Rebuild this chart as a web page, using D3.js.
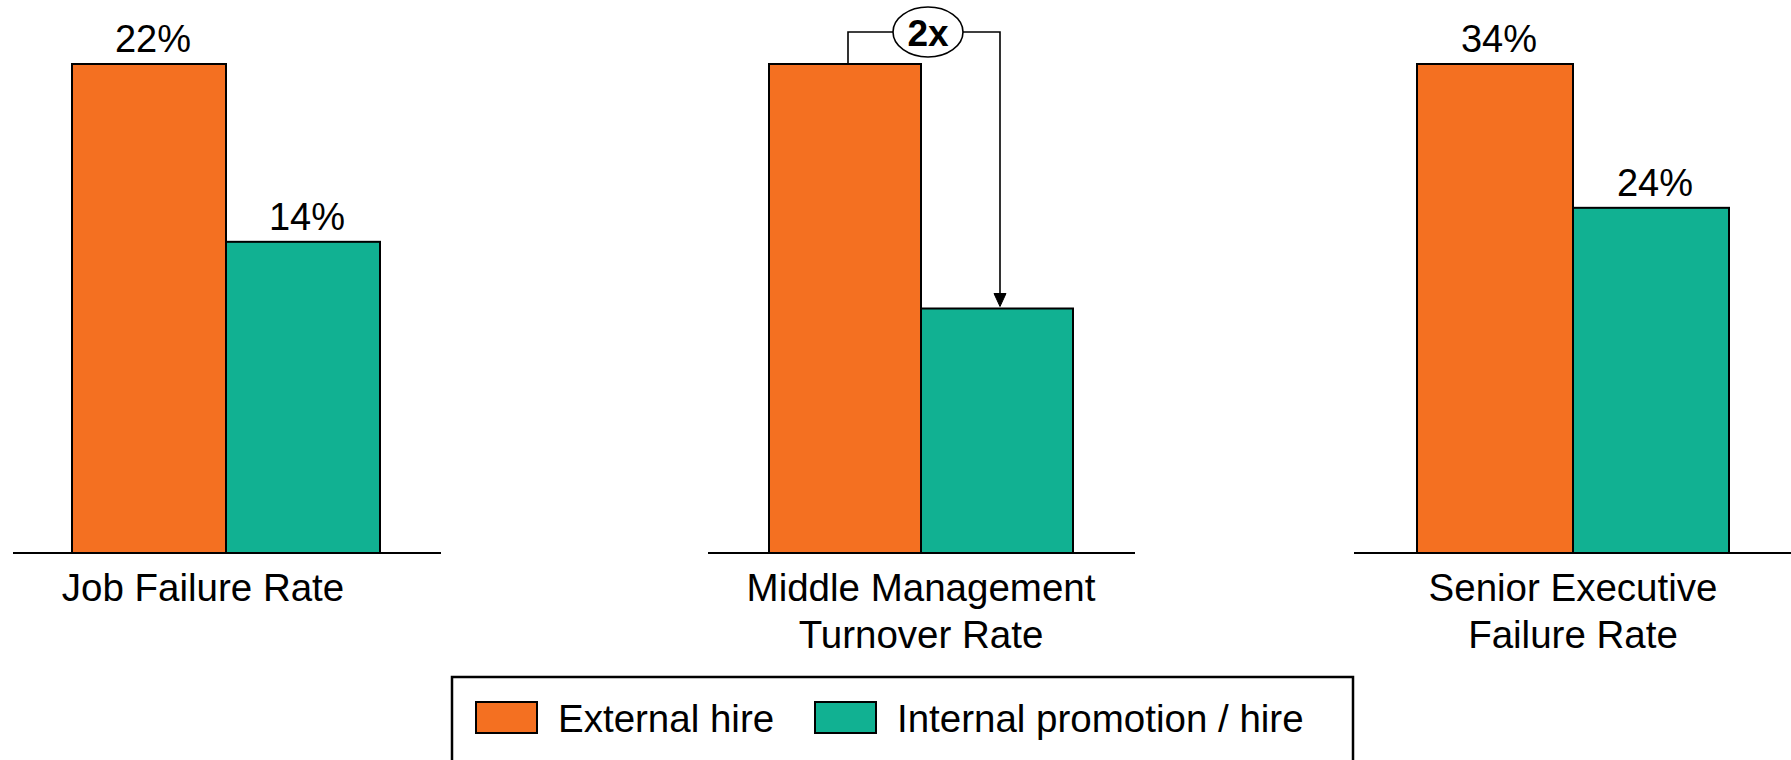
<!DOCTYPE html>
<html>
<head>
<meta charset="utf-8">
<script src="https://cdn.jsdelivr.net/npm/d3@7/dist/d3.min.js"></script>
<style>
  html, body { margin: 0; padding: 0; background: #fff; }
  svg { display: block; font-family: "Liberation Sans", Arial, Helvetica, sans-serif; }
</style>
</head>
<body>
<svg id="chart" width="1791" height="760"></svg>
<script>
// Hiring outcomes: external hires vs internal promotions
const categories = ["Job Failure Rate", "Middle Management Turnover Rate", "Senior Executive Failure Rate"];
const categoryLines = [["Job Failure Rate"], ["Middle Management", "Turnover Rate"], ["Senior Executive", "Failure Rate"]];
const series = ["External hire", "Internal promotion / hire"];
const externalValues = [22, 1, 34];     // middle panel is relative (no % shown)
const internalValues = [14, 0.5, 24];
const valueLabels = [["22%", "14%"], null, ["34%", "24%"]];
const ratioLabel = "2x";                 // middle panel annotation

const colors = ["#F47021", "#11B192"];

const svg = d3.select("#chart");
const baseY = 553, topY = 64;

// panel placement
const panelCenter = d3.scaleOrdinal().domain(categories).range([226, 921, 1573]);
const panelHalf = d3.scaleOrdinal().domain(categories).range([154, 152, 156]);
const panelExtent = d3.scaleOrdinal().domain(categories).range([[13, 441], [708, 1135], [1354, 1791]]);
const labelShift = d3.scaleOrdinal().domain(categories).range([-23, 0, 0]);

const color = d3.scaleOrdinal().domain(series).range(colors);

const labelFont = 38.5, valueFont = 38;

categories.forEach((cat, i) => {
  const vals = [externalValues[i], internalValues[i]];
  const y = d3.scaleLinear().domain([0, d3.max(vals)]).range([baseY, topY]);
  const xInner = d3.scaleBand().domain(series).range([-panelHalf(cat), panelHalf(cat)]);
  const cx = panelCenter(cat);
  const g = svg.append("g").attr("transform", `translate(${cx},0)`);

  // baseline
  const ext = panelExtent(cat);
  svg.append("line")
    .attr("x1", ext[0]).attr("x2", ext[1])
    .attr("y1", baseY).attr("y2", baseY)
    .attr("stroke", "#000").attr("stroke-width", 2);

  // bars
  g.selectAll("rect.bar").data(series.map((s, j) => ({ s, v: vals[j] })))
    .join("rect")
    .attr("class", "bar")
    .attr("x", d => xInner(d.s))
    .attr("y", d => y(d.v))
    .attr("width", xInner.bandwidth())
    .attr("height", d => baseY - y(d.v))
    .attr("fill", d => color(d.s))
    .attr("stroke", "#000")
    .attr("stroke-width", 2);

  // value labels
  if (valueLabels[i]) {
    g.selectAll("text.val").data(series.map((s, j) => ({ s, v: vals[j], t: valueLabels[i][j] })))
      .join("text")
      .attr("class", "val")
      .attr("x", d => xInner(d.s) + xInner.bandwidth() / 2 + 4)
      .attr("y", d => y(d.v) - 12)
      .attr("text-anchor", "middle")
      .attr("font-size", valueFont)
      .attr("fill", "#000")
      .text(d => d.t);
  }

  // category label
  const lab = svg.append("text")
    .attr("text-anchor", "middle")
    .attr("font-size", labelFont)
    .attr("fill", "#000");
  categoryLines[i].forEach((ln, k) => {
    lab.append("tspan")
      .attr("x", cx + labelShift(cat))
      .attr("y", 601 + k * 47)
      .text(ln);
  });

  // ratio bracket on the middle panel
  if (!valueLabels[i]) {
    const xa = cx + xInner(series[0]) + xInner.bandwidth() / 2 + 3;
    const xb = cx + xInner(series[1]) + xInner.bandwidth() / 2 + 3;
    const yTop = 32;
    const ex = (xa + xb) / 2 + 4, rx = 35, ry = 25;
    const tipY = y(vals[1]) - 2;
    const ann = svg.append("g").attr("stroke", "#000").attr("stroke-width", 1.6).attr("fill", "none");
    ann.append("path").attr("d", `M${xa},${y(vals[0])}V${yTop}H${ex - rx}`);
    ann.append("path").attr("d", `M${ex + rx},${yTop}H${xb}V${tipY - 12}`);
    ann.append("path").attr("d", `M${xb - 6},${tipY - 13}L${xb + 6},${tipY - 13}L${xb},${tipY}Z`)
      .attr("fill", "#000").attr("stroke-width", 1);
    ann.append("ellipse").attr("cx", ex).attr("cy", yTop).attr("rx", rx).attr("ry", ry)
      .attr("fill", "#fff");
    svg.append("text")
      .attr("x", ex).attr("y", yTop + 14)
      .attr("text-anchor", "middle")
      .attr("font-size", 37).attr("font-weight", "bold")
      .attr("fill", "#000")
      .text(ratioLabel);
  }
});

// legend
const legend = svg.append("g");
legend.append("rect")
  .attr("x", 452).attr("y", 677).attr("width", 901).attr("height", 140)
  .attr("fill", "#fff").attr("stroke", "#000").attr("stroke-width", 2.5);
const legendX = d3.scaleOrdinal().domain(series).range([476, 815]);
const item = legend.selectAll("g.item").data(series).join("g")
  .attr("class", "item")
  .attr("transform", d => `translate(${legendX(d)},702)`);
item.append("rect")
  .attr("width", 61).attr("height", 31)
  .attr("fill", d => color(d))
  .attr("stroke", "#000").attr("stroke-width", 2);
item.append("text")
  .attr("x", 82).attr("y", 30)
  .attr("font-size", labelFont)
  .attr("fill", "#000")
  .text(d => d);
</script>
</body>
</html>
